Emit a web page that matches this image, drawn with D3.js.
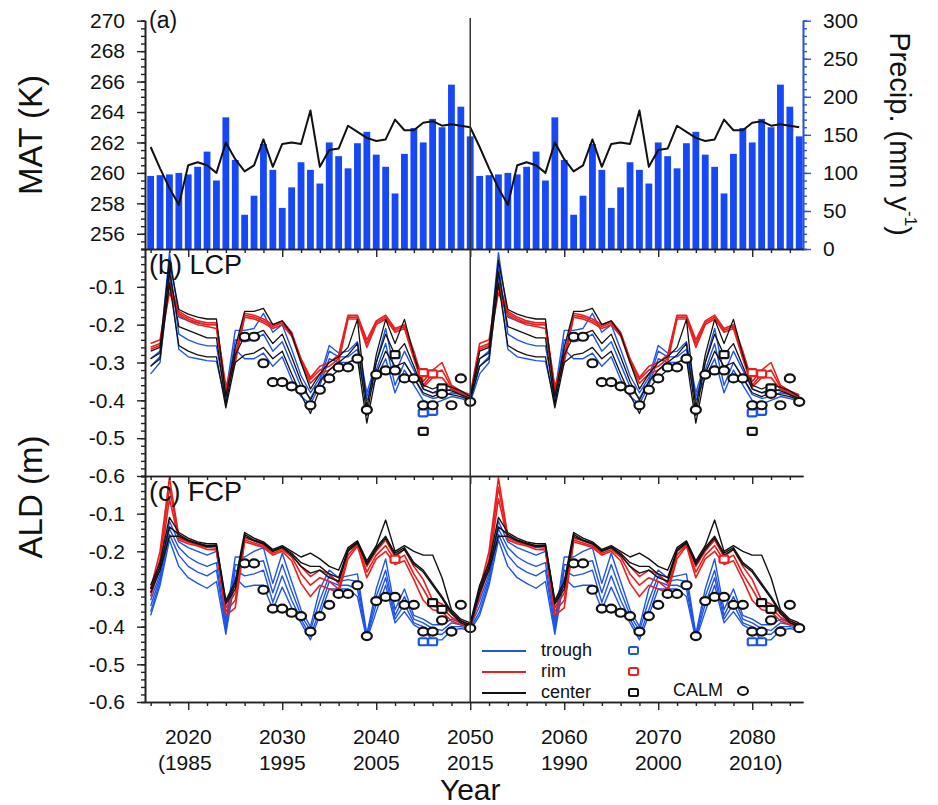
<!DOCTYPE html>
<html>
<head>
<meta charset="utf-8">
<script src="https://cdn.jsdelivr.net/npm/d3@7"></script>
<style>
  body { margin: 0; background: #fff; }
  svg text { font-family: "Liberation Sans", Arial, sans-serif; fill: #111; }
</style>
</head>
<body>
<svg id="chart" width="938" height="805"></svg>
<script>
// ---------------- data ----------------
// observation years (the 1981-2015 forcing is run twice, 2016-2050 and 2051-2085)
const obsYears = [1981,1982,1983,1984,1985,1986,1987,1988,1989,1990,1991,1992,1993,1994,1995,1996,1997,1998,1999,2000,2001,2002,2003,2004,2005,2006,2007,2008,2009,2010,2011,2012,2013,2014,2015];
const cycleOffsets = [35, 70];

// (a) mean annual temperature (K) and precipitation (mm/yr)
const matK = [261.7,260.3,259.0,257.9,260.5,260.7,260.5,260.0,262.0,260.9,260.1,260.5,262.2,260.4,261.9,262.0,261.9,264.1,260.4,261.5,261.6,263.1,262.7,262.3,262.1,262.2,263.5,262.8,262.8,263.3,263.4,263.1,263.2,263.1,263.0];
const precip = [96,97,98,100,98,108,128,90,173,117,45,70,138,104,54,81,114,104,86,140,122,106,139,154,124,108,73,125,159,140,171,160,216,187,148];

// (b) LCP simulated active layer depth (m)
const lcpTrough1 = [-0.29,-0.27,-0.01,-0.18,-0.19,-0.195,-0.2,-0.2,-0.38,-0.215,-0.215,-0.21,-0.17,-0.22,-0.2,-0.265,-0.335,-0.38,-0.34,-0.255,-0.275,-0.27,-0.245,-0.38,-0.3,-0.21,-0.33,-0.27,-0.32,-0.37,-0.38,-0.38,-0.37,-0.38,-0.39];
const lcpTrough2 = [-0.31,-0.285,-0.04,-0.225,-0.24,-0.25,-0.256,-0.256,-0.395,-0.24,-0.245,-0.24,-0.225,-0.27,-0.245,-0.305,-0.365,-0.395,-0.35,-0.27,-0.285,-0.285,-0.265,-0.39,-0.32,-0.25,-0.36,-0.3,-0.34,-0.385,-0.395,-0.39,-0.38,-0.385,-0.4];
const lcpTrough3 = [-0.33,-0.3,-0.07,-0.265,-0.285,-0.29,-0.295,-0.297,-0.405,-0.265,-0.29,-0.29,-0.275,-0.31,-0.285,-0.345,-0.39,-0.41,-0.36,-0.29,-0.3,-0.3,-0.29,-0.4,-0.34,-0.29,-0.38,-0.32,-0.36,-0.4,-0.41,-0.4,-0.39,-0.395,-0.405];
const lcpRim1 = [-0.25,-0.24,-0.09,-0.165,-0.18,-0.19,-0.195,-0.195,-0.365,-0.28,-0.17,-0.175,-0.185,-0.2,-0.19,-0.22,-0.29,-0.34,-0.31,-0.3,-0.28,-0.175,-0.175,-0.24,-0.19,-0.175,-0.21,-0.2,-0.27,-0.35,-0.32,-0.3,-0.36,-0.375,-0.385];
const lcpRim2 = [-0.26,-0.25,-0.1,-0.17,-0.185,-0.195,-0.2,-0.2,-0.37,-0.29,-0.175,-0.18,-0.19,-0.205,-0.195,-0.225,-0.295,-0.345,-0.32,-0.31,-0.29,-0.18,-0.18,-0.25,-0.195,-0.18,-0.215,-0.205,-0.28,-0.36,-0.33,-0.32,-0.365,-0.38,-0.39];
const lcpRim3 = [-0.265,-0.255,-0.115,-0.175,-0.19,-0.2,-0.205,-0.21,-0.38,-0.3,-0.18,-0.185,-0.195,-0.21,-0.2,-0.23,-0.3,-0.355,-0.33,-0.32,-0.3,-0.185,-0.185,-0.26,-0.2,-0.185,-0.22,-0.21,-0.29,-0.365,-0.34,-0.34,-0.37,-0.385,-0.395];
const lcpCenter1 = [-0.27,-0.26,-0.03,-0.16,-0.172,-0.18,-0.185,-0.185,-0.39,-0.26,-0.165,-0.165,-0.157,-0.2,-0.19,-0.225,-0.3,-0.37,-0.33,-0.3,-0.285,-0.26,-0.186,-0.42,-0.28,-0.186,-0.25,-0.186,-0.28,-0.36,-0.37,-0.36,-0.365,-0.375,-0.39];
const lcpCenter2 = [-0.29,-0.275,-0.06,-0.205,-0.215,-0.225,-0.235,-0.235,-0.41,-0.28,-0.23,-0.225,-0.215,-0.25,-0.225,-0.285,-0.35,-0.4,-0.35,-0.32,-0.3,-0.28,-0.25,-0.44,-0.3,-0.225,-0.28,-0.25,-0.31,-0.37,-0.38,-0.37,-0.375,-0.385,-0.395];
const lcpCenter3 = [-0.31,-0.29,-0.09,-0.255,-0.27,-0.28,-0.285,-0.285,-0.42,-0.3,-0.28,-0.275,-0.26,-0.29,-0.27,-0.33,-0.385,-0.435,-0.37,-0.34,-0.32,-0.3,-0.29,-0.46,-0.33,-0.27,-0.31,-0.3,-0.34,-0.38,-0.39,-0.38,-0.385,-0.39,-0.4];

// (c) FCP simulated active layer depth (m)
const fcpTrough1 = [-0.33,-0.26,-0.12,-0.175,-0.19,-0.2,-0.21,-0.2,-0.385,-0.215,-0.215,-0.2,-0.19,-0.285,-0.205,-0.28,-0.355,-0.4,-0.3,-0.25,-0.27,-0.265,-0.26,-0.42,-0.3,-0.22,-0.355,-0.3,-0.37,-0.38,-0.395,-0.395,-0.38,-0.39,-0.395];
const fcpTrough2 = [-0.345,-0.27,-0.14,-0.19,-0.215,-0.23,-0.24,-0.23,-0.4,-0.235,-0.24,-0.23,-0.225,-0.31,-0.235,-0.305,-0.37,-0.41,-0.33,-0.265,-0.28,-0.275,-0.28,-0.425,-0.32,-0.25,-0.37,-0.32,-0.38,-0.39,-0.405,-0.41,-0.39,-0.395,-0.4];
const fcpTrough3 = [-0.36,-0.28,-0.155,-0.21,-0.24,-0.255,-0.265,-0.25,-0.41,-0.25,-0.265,-0.26,-0.25,-0.335,-0.265,-0.33,-0.38,-0.425,-0.355,-0.28,-0.29,-0.29,-0.3,-0.43,-0.34,-0.27,-0.38,-0.34,-0.39,-0.4,-0.42,-0.42,-0.4,-0.4,-0.405];
const fcpTrough4 = [-0.37,-0.29,-0.17,-0.24,-0.27,-0.285,-0.298,-0.28,-0.42,-0.27,-0.295,-0.29,-0.29,-0.355,-0.295,-0.35,-0.39,-0.435,-0.37,-0.3,-0.3,-0.3,-0.32,-0.435,-0.36,-0.29,-0.39,-0.36,-0.395,-0.41,-0.435,-0.435,-0.41,-0.405,-0.41];
const fcpRim1 = [-0.3,-0.2,-0.005,-0.16,-0.172,-0.18,-0.186,-0.188,-0.35,-0.31,-0.165,-0.172,-0.182,-0.2,-0.19,-0.21,-0.24,-0.267,-0.25,-0.26,-0.285,-0.2,-0.178,-0.24,-0.2,-0.17,-0.215,-0.195,-0.24,-0.275,-0.33,-0.34,-0.365,-0.385,-0.395];
const fcpRim2 = [-0.31,-0.22,-0.03,-0.165,-0.175,-0.183,-0.19,-0.192,-0.36,-0.33,-0.17,-0.178,-0.186,-0.205,-0.195,-0.215,-0.26,-0.29,-0.27,-0.28,-0.3,-0.21,-0.182,-0.255,-0.21,-0.185,-0.225,-0.21,-0.26,-0.3,-0.345,-0.35,-0.375,-0.39,-0.4];
const fcpRim3 = [-0.32,-0.24,-0.06,-0.17,-0.18,-0.186,-0.195,-0.196,-0.37,-0.35,-0.175,-0.182,-0.19,-0.21,-0.2,-0.225,-0.285,-0.32,-0.29,-0.3,-0.31,-0.22,-0.186,-0.27,-0.22,-0.2,-0.235,-0.225,-0.275,-0.33,-0.355,-0.36,-0.385,-0.395,-0.405];
const fcpCenter1 = [-0.29,-0.23,-0.11,-0.15,-0.165,-0.175,-0.18,-0.18,-0.33,-0.28,-0.15,-0.165,-0.175,-0.195,-0.185,-0.2,-0.215,-0.205,-0.22,-0.24,-0.25,-0.19,-0.172,-0.225,-0.185,-0.117,-0.2,-0.185,-0.2,-0.21,-0.21,-0.27,-0.355,-0.38,-0.39];
const fcpCenter2 = [-0.3,-0.24,-0.135,-0.155,-0.17,-0.178,-0.185,-0.183,-0.335,-0.29,-0.155,-0.17,-0.178,-0.198,-0.188,-0.205,-0.23,-0.24,-0.24,-0.26,-0.27,-0.195,-0.175,-0.23,-0.19,-0.16,-0.205,-0.19,-0.23,-0.25,-0.285,-0.32,-0.36,-0.385,-0.395];
const fcpCenter3 = [-0.31,-0.25,-0.16,-0.16,-0.172,-0.18,-0.188,-0.186,-0.34,-0.3,-0.16,-0.172,-0.18,-0.2,-0.19,-0.21,-0.24,-0.258,-0.25,-0.27,-0.28,-0.2,-0.178,-0.235,-0.195,-0.165,-0.21,-0.195,-0.235,-0.255,-0.29,-0.325,-0.365,-0.39,-0.4];

// CALM grid observations (m)
const calmYears = [1991,1992,1993,1994,1995,1996,1997,1998,1999,2000,2001,2002,2003,2004,2005,2006,2007,2008,2009,2010,2011,2012,2013,2014,2015];
const calmAld = [-0.232,-0.232,-0.302,-0.352,-0.352,-0.363,-0.372,-0.413,-0.372,-0.342,-0.313,-0.313,-0.29,-0.425,-0.332,-0.321,-0.321,-0.342,-0.342,-0.413,-0.413,-0.383,-0.413,-0.342,-0.404];

// polygon feature observations (m)
const lcpTroughObsYears = [2010, 2011];
const lcpTroughObs = [-0.433, -0.429];
const lcpRimObsYears = [2010, 2011];
const lcpRimObs = [-0.327, -0.33];
const lcpCenterObsYears = [2007, 2010, 2012];
const lcpCenterObs = [-0.279, -0.482, -0.367];
const fcpTroughObsYears = [2010, 2011];
const fcpTroughObs = [-0.44, -0.44];
const fcpRimObsYears = [2007];
const fcpRimObs = [-0.221];
const fcpCenterObsYears = [2011, 2012];
const fcpCenterObs = [-0.336, -0.354];

// axis ticks
const xMajor = [2020, 2030, 2040, 2050, 2060, 2070, 2080];
const xMinor = [2016,2018,2022,2024,2026,2028,2032,2034,2036,2038,2042,2044,2046,2048,2052,2054,2056,2058,2062,2064,2066,2068,2072,2074,2076,2078,2082,2084];
const xLabelSecond = ["1985", "1995", "2005", "2015", "1990", "2000", "2010"];
const matTicks = [256, 258, 260, 262, 264, 266, 268, 270];
const precipTicks = [0, 50, 100, 150, 200, 250, 300];
const aldTicks = [-0.1, -0.2, -0.3, -0.4, -0.5, -0.6];

// ---------------- layout ----------------
const COL = { trough: "#1e55e6", rim: "#e8201e", center: "#111111", bar: "#1648f6", axisBlue: "#2a52d8" };
const xL = 145, xR = 803;
const aTop = 20.7, aBot = 249, bTop = 249, bBot = 476, cTop = 476, cBot = 702;

const x = d3.scaleLinear().domain([2015.4, 2085.4]).range([xL, xR]);
const yK = d3.scaleLinear().domain([255, 270]).range([aBot, aTop]);
const yP = d3.scaleLinear().domain([0, 300]).range([aBot, aTop]);
const yB = d3.scaleLinear().domain([-0.6, 0]).range([bBot, bTop]);
const yC = d3.scaleLinear().domain([-0.6, 0]).range([cBot, cTop]);

const svg = d3.select("#chart");
const defs = svg.append("defs");
[["clipB", bTop, bBot], ["clipC", cTop, cBot]].forEach(([id, y0, y1]) => {
  defs.append("clipPath").attr("id", id).append("rect")
    .attr("x", xL).attr("y", y0).attr("width", xR - xL).attr("height", y1 - y0);
});

// expand a 1981-2015 series over both model cycles
function cycles(vals) {
  const out = [];
  cycleOffsets.forEach(off => obsYears.forEach((yr, i) => out.push({ year: yr + off, v: vals[i] })));
  return out;
}
function cyclePoints(years, vals) {
  const out = [];
  cycleOffsets.forEach(off => years.forEach((yr, i) => out.push({ year: yr + off, v: vals[i] })));
  return out;
}

// ---------------- panel (a) ----------------
const gA = svg.append("g");
const barW = 6.8;
gA.selectAll("rect.bar").data(cycles(precip)).join("rect")
  .attr("class", "bar")
  .attr("x", d => x(d.year) - barW / 2).attr("width", barW)
  .attr("y", d => yP(d.v)).attr("height", d => yP(0) - yP(d.v))
  .attr("fill", COL.bar);

gA.append("path").datum(cycles(matK))
  .attr("fill", "none").attr("stroke", "#111").attr("stroke-width", 2)
  .attr("stroke-linejoin", "round")
  .attr("d", d3.line().x(d => x(d.year)).y(d => yK(d.v)));

function styleAxis(g, color) {
  g.selectAll("path.domain").attr("stroke", color).attr("stroke-width", 1.6);
  g.selectAll(".tick line").attr("stroke", color).attr("stroke-width", 1.4);
  g.selectAll(".tick text").attr("fill", color).style("font-size", "21px")
    .style("font-family", '"Liberation Sans", Arial, sans-serif');
}
// left axis (MAT)
const axK = svg.append("g").attr("transform", `translate(${xL},0)`)
  .call(d3.axisLeft(yK).tickValues(matTicks).tickSizeInner(8).tickSizeOuter(0).tickPadding(12).tickFormat(d3.format("d")));
styleAxis(axK, "#222");
const axKm = svg.append("g").attr("transform", `translate(${xL},0)`)
  .call(d3.axisLeft(yK).tickValues(d3.range(255, 270.01, 0.5)).tickSize(4).tickFormat(""));
styleAxis(axKm, "#222");

// right axis (precipitation)
const axP = svg.append("g").attr("transform", `translate(${xR},0)`)
  .call(d3.axisRight(yP).tickValues(precipTicks).tickSizeInner(8).tickSizeOuter(0).tickPadding(12));
styleAxis(axP, COL.axisBlue);
const axPm = svg.append("g").attr("transform", `translate(${xR},0)`)
  .call(d3.axisRight(yP).tickValues(d3.range(0, 301, 10)).tickSize(4).tickFormat(""));
styleAxis(axPm, COL.axisBlue);

// ---------------- panels (b) and (c) ----------------
const line = yS => d3.line().x(d => x(d.year)).y(d => yS(d.v)).curve(d3.curveLinear);

function drawAld(yS, clip, groups) {
  const g = svg.append("g").attr("clip-path", `url(#${clip})`);
  groups.forEach(([series, color, w]) => {
    series.forEach(s => {
      g.append("path").datum(cycles(s))
        .attr("fill", "none").attr("stroke", color).attr("stroke-width", w)
        .attr("stroke-linejoin", "round")
        .attr("d", line(yS));
    });
  });
  return g;
}
drawAld(yB, "clipB", [
  [[lcpTrough1, lcpTrough2, lcpTrough3], COL.trough, 1.4],
  [[lcpRim1, lcpRim2, lcpRim3], COL.rim, 1.6],
  [[lcpCenter1, lcpCenter2, lcpCenter3], COL.center, 1.3]
]);
drawAld(yC, "clipC", [
  [[fcpTrough1, fcpTrough2, fcpTrough3, fcpTrough4], COL.trough, 1.4],
  [[fcpRim1, fcpRim2, fcpRim3], COL.rim, 1.6],
  [[fcpCenter1, fcpCenter2, fcpCenter3], COL.center, 1.4]
]);

// observation markers
function squares(yS, years, vals, color) {
  svg.append("g").selectAll("rect").data(cyclePoints(years, vals)).join("rect")
    .attr("x", d => x(d.year) - 4.5).attr("y", d => yS(d.v) - 3.5)
    .attr("width", 9).attr("height", 7).attr("rx", 1.5)
    .attr("fill", "#fff").attr("stroke", color).attr("stroke-width", 2.2);
}
function calm(yS) {
  svg.append("g").selectAll("ellipse").data(cyclePoints(calmYears, calmAld)).join("ellipse")
    .attr("cx", d => x(d.year)).attr("cy", d => yS(d.v))
    .attr("rx", 5).attr("ry", 4)
    .attr("fill", "#fff").attr("stroke", "#111").attr("stroke-width", 2.2);
}
squares(yB, lcpTroughObsYears, lcpTroughObs, COL.trough);
squares(yB, lcpRimObsYears, lcpRimObs, COL.rim);
squares(yB, lcpCenterObsYears, lcpCenterObs, COL.center);
calm(yB);
squares(yC, fcpTroughObsYears, fcpTroughObs, COL.trough);
squares(yC, fcpRimObsYears, fcpRimObs, COL.rim);
squares(yC, fcpCenterObsYears, fcpCenterObs, COL.center);
calm(yC);

// ALD left axes
[yB, yC].forEach(yS => {
  const a = svg.append("g").attr("transform", `translate(${xL},0)`)
    .call(d3.axisLeft(yS).tickValues(aldTicks).tickSizeInner(8).tickSizeOuter(0).tickPadding(12).tickFormat(d => d.toFixed(1)));
  styleAxis(a, "#222");
  const m = svg.append("g").attr("transform", `translate(${xL},0)`)
    .call(d3.axisLeft(yS).tickValues(d3.range(-0.6, 0.001, 0.02)).tickSize(4).tickFormat(""));
  styleAxis(m, "#222");
});

// horizontal frame lines with inward year ticks (top of b and c)
[bTop, cTop].forEach(yy => {
  const t = svg.append("g").attr("transform", `translate(0,${yy})`)
    .call(d3.axisTop(x).tickValues(xMajor).tickSizeInner(-8).tickSizeOuter(0).tickFormat(""));
  styleAxis(t, "#222");
  const tm = svg.append("g").attr("transform", `translate(0,${yy})`)
    .call(d3.axisTop(x).tickValues(xMinor).tickSizeInner(-4).tickSizeOuter(0).tickFormat(""));
  styleAxis(tm, "#222");
});

// bottom axis
const xb = svg.append("g").attr("transform", `translate(0,${cBot})`)
  .call(d3.axisBottom(x).tickValues(xMajor).tickSizeInner(8).tickSizeOuter(0).tickFormat(""));
styleAxis(xb, "#222");
const xbm = svg.append("g").attr("transform", `translate(0,${cBot})`)
  .call(d3.axisBottom(x).tickValues(xMinor).tickSizeInner(4).tickSizeOuter(0).tickFormat(""));
styleAxis(xbm, "#222");

// two-row year labels: model year and the forcing year in parentheses
const row1 = 744, row2 = 770;
const labG = svg.append("g").style("font-size", "21px");
xMajor.forEach((yr, i) => {
  labG.append("text").attr("x", x(yr)).attr("y", row1).attr("text-anchor", "middle").text(yr);
  const t = labG.append("text").attr("x", x(yr)).attr("y", row2).attr("text-anchor", "middle")
    .text(xLabelSecond[i]);
  const half = t.node().getComputedTextLength() / 2;
  if (i === 0) labG.append("text").attr("x", x(yr) - half).attr("y", row2)
    .attr("text-anchor", "end").text("(");
  if (i === xMajor.length - 1) labG.append("text").attr("x", x(yr) + half).attr("y", row2)
    .attr("text-anchor", "start").text(")");
});

// 2050 divider between the two cycles
svg.append("line").attr("x1", x(2050)).attr("x2", x(2050)).attr("y1", 18).attr("y2", cBot)
  .attr("stroke", "#333").attr("stroke-width", 1.5);

// panel labels
svg.append("text").attr("x", 149).attr("y", 22).attr("dominant-baseline", "middle")
  .style("font-size", "23px").text("(a)");
svg.append("text").attr("x", 149).attr("y", 267).attr("dominant-baseline", "middle")
  .style("font-size", "27px").text("(b) LCP");
svg.append("text").attr("x", 149).attr("y", 494).attr("dominant-baseline", "middle")
  .style("font-size", "27px").text("(c) FCP");

// axis titles
svg.append("text").attr("transform", "translate(33,135) rotate(-90)")
  .attr("text-anchor", "middle").attr("dominant-baseline", "middle")
  .style("font-size", "33px").text("MAT (K)");
svg.append("text").attr("transform", "translate(33,497) rotate(-90)")
  .attr("text-anchor", "middle").attr("dominant-baseline", "middle")
  .style("font-size", "33px").text("ALD (m)");
svg.append("text").attr("x", x(2050)).attr("y", 800)
  .attr("text-anchor", "middle")
  .style("font-size", "30px").text("Year");
const pt = svg.append("text").attr("transform", "translate(898,134) rotate(90)")
  .attr("text-anchor", "middle").attr("dominant-baseline", "middle")
  .style("font-size", "29px");
pt.append("tspan").text("Precip. (mm y");
pt.append("tspan").attr("dy", -11).style("font-size", "17px").text("-1");
pt.append("tspan").attr("dy", 11).text(")");

// legend
const lg = svg.append("g").style("font-size", "18px");
const legendRows = [["trough", COL.trough, 651], ["rim", COL.rim, 672], ["center", COL.center, 693]];
legendRows.forEach(([name, color, yy]) => {
  lg.append("line").attr("x1", 482).attr("x2", 526).attr("y1", yy).attr("y2", yy)
    .attr("stroke", color).attr("stroke-width", 2);
  lg.append("text").attr("x", 541).attr("y", yy).attr("dominant-baseline", "middle").text(name);
  lg.append("rect").attr("x", 629).attr("y", yy - 4).attr("width", 9).attr("height", 7).attr("rx", 1.5)
    .attr("fill", "#fff").attr("stroke", color).attr("stroke-width", 2);
});
lg.append("text").attr("x", 673).attr("y", 691).attr("dominant-baseline", "middle").text("CALM");
lg.append("ellipse").attr("cx", 743).attr("cy", 691).attr("rx", 5).attr("ry", 4)
  .attr("fill", "#fff").attr("stroke", "#111").attr("stroke-width", 2);
</script>
</body>
</html>
